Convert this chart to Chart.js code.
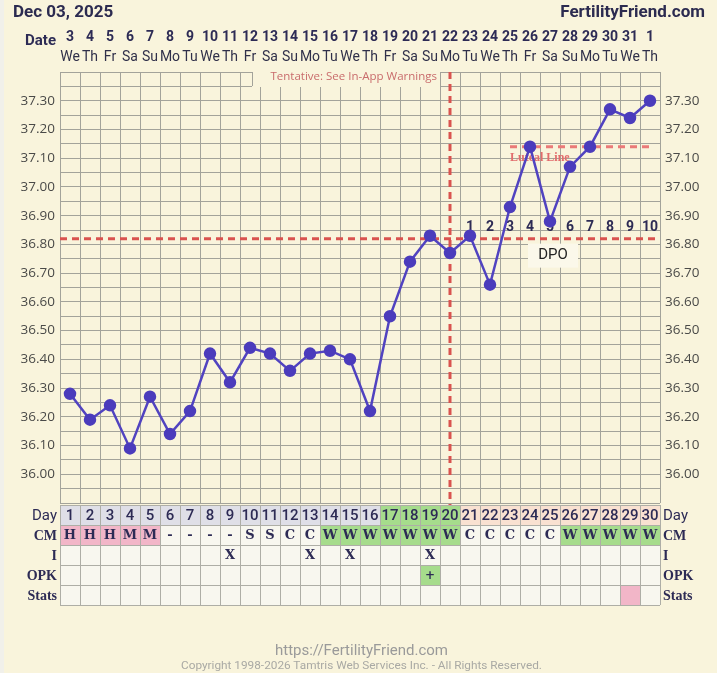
<!DOCTYPE html>
<html>
<head>
<meta charset="utf-8">
<script src="https://cdn.jsdelivr.net/npm/chart.js@4"></script>
<style>
    html, body { margin: 0; padding: 0; background: #f9f4dc; }
    #wrap { position: relative; width: 717px; height: 673px; overflow: hidden; background: #f9f4dc; }
    #edge { position: absolute; left: 0; top: 0; width: 4px; height: 673px; background: #f1f0ea; }
    #chart { position: absolute; left: 0; top: 0; }
    .title { position: absolute; top: 1px; font: bold 17px Roboto, sans-serif; color: #2c2b50; white-space: nowrap; }
    .foot { position: absolute; left: 0; width: 717px; text-align: center; font-family: Roboto, sans-serif; white-space: nowrap; }
</style>
</head>
<body>
<div id="wrap">
    <div id="edge"></div>
    <canvas id="chart" width="717" height="673"></canvas>
    <div class="title" style="left:13px;">Dec 03, 2025</div>
    <div class="title" style="right:12px;">FertilityFriend.com</div>
    <div class="foot" style="top:641px;font-size:15px;color:#9a9a9a;left:3px;">https://FertilityFriend.com</div>
    <div class="foot" style="top:658px;font-size:11.8px;color:#a9a9a4;left:3px;">Copyright 1998-2026 Tamtris Web Services Inc. - All Rights Reserved.</div>
</div>
<script>
    // cycle days and calendar dates
    const cycleDays = [1, 2, 3, 4, 5, 6, 7, 8, 9, 10, 11, 12, 13, 14, 15, 16, 17, 18, 19, 20, 21, 22, 23, 24, 25, 26, 27, 28, 29, 30];
    const dates = ['3', '4', '5', '6', '7', '8', '9', '10', '11', '12', '13', '14', '15', '16', '17', '18', '19', '20', '21', '22', '23', '24', '25', '26', '27', '28', '29', '30', '31', '1'];
    const weekdays = ['We', 'Th', 'Fr', 'Sa', 'Su', 'Mo', 'Tu', 'We', 'Th', 'Fr', 'Sa', 'Su', 'Mo', 'Tu', 'We', 'Th', 'Fr', 'Sa', 'Su', 'Mo', 'Tu', 'We', 'Th', 'Fr', 'Sa', 'Su', 'Mo', 'Tu', 'We', 'Th'];

    // basal body temperatures
    const temps = [36.28, 36.19, 36.24, 36.09, 36.27, 36.14, 36.22, 36.42, 36.32, 36.44,
                   36.42, 36.36, 36.42, 36.43, 36.40, 36.22, 36.55, 36.74, 36.83, 36.77,
                   36.83, 36.66, 36.93, 37.14, 36.88, 37.07, 37.14, 37.27, 37.24, 37.30];
    const tempLabels = [36.00, 36.10, 36.20, 36.30, 36.40, 36.50, 36.60, 36.70, 36.80, 36.90, 37.00, 37.10, 37.20, 37.30];
    const tempMin = 35.90;
    const tempMax = 37.40;

    const coverline = 36.82;
    const ovulationDay = 20;
    const lutealStart = 23;
    const lutealTemp = 37.14;
    const dpoLabels = ['1', '2', '3', '4', '5', '6', '7', '8', '9', '10'];
    const fertileDays = [17, 18, 19, 20];

    // chart table rows
    const cm = ['H', 'H', 'H', 'M', 'M', '-', '-', '-', '-', 'S', 'S', 'C', 'C', 'W', 'W', 'W', 'W', 'W', 'W', 'W', 'C', 'C', 'C', 'C', 'C', 'W', 'W', 'W', 'W', 'W'];
    const intercourse = ['', '', '', '', '', '', '', '', 'X', '', '', '', 'X', '', 'X', '', '', '', 'X', '', '', '', '', '', '', '', '', '', '', ''];
    const opk = ['', '', '', '', '', '', '', '', '', '', '', '', '', '', '', '', '', '', '+', '', '', '', '', '', '', '', '', '', '', ''];
    const statsDays = [29];

    const NAVY = '#2d2b55';
    const GRID = '#a3a39a';
    const RED = '#d9534f';
    const PINK = '#f2b6c8';
    const GREEN = '#a6dc8c';
    const CELL = '#f8f7ef';

    const lutealData = cycleDays.map(d => d >= lutealStart ? lutealTemp : null);

    function cellColor(row, i) {
        const day = cycleDays[i];
        if (row === 'Day') {
            if (fertileDays.includes(day)) return GREEN;
            if (day > ovulationDay) return '#f9e1d1';
            return '#dfdfe7';
        }
        if (row === 'CM') {
            if (cm[i] === 'H' || cm[i] === 'M') return PINK;
            if (cm[i] === 'W') return GREEN;
        }
        if (row === 'OPK' && opk[i] === '+') return GREEN;
        if (row === 'Stats' && statsDays.includes(day)) return PINK;
        return CELL;
    }

    const chartDecor = {
        id: 'chartDecor',
        beforeDraw(chart) {
            const { ctx, chartArea: a } = chart;
            ctx.save();
            ctx.fillStyle = '#f9f4dc';
            ctx.fillRect(a.left, a.top, a.right - a.left, a.bottom - a.top);
            ctx.restore();
        },
        beforeDatasetsDraw(chart) {
            const { ctx, chartArea: a, scales: { x, y } } = chart;
            ctx.save();

            // tentative note box over the top row
            ctx.fillStyle = '#f9f4dc';
            ctx.fillRect(252, a.top - 1, 188, 16);
            ctx.strokeStyle = GRID;
            ctx.lineWidth = 1;
            ctx.beginPath();
            ctx.moveTo(252.5, a.top);
            ctx.lineTo(252.5, a.top + 14);
            ctx.stroke();
            ctx.fillStyle = '#c96c6c';
            ctx.font = '11.5px "Open Sans", sans-serif';
            ctx.textAlign = 'right';
            ctx.textBaseline = 'middle';
            ctx.fillText('Tentative: See In-App Warnings', 437, a.top + 5);

            // DPO box
            const cy = y.getPixelForValue(coverline);
            const bx = x.getPixelForTick(cycleDays.indexOf(ovulationDay) + 4);
            ctx.fillStyle = '#fbf8ea';
            ctx.fillRect(bx - 2, cy + 5, 50, 24);
            ctx.fillStyle = '#222';
            ctx.font = '15px Roboto, sans-serif';
            ctx.textAlign = 'center';
            ctx.fillText('DPO', bx + 23, cy + 17);

            // coverline and ovulation line
            ctx.strokeStyle = RED;
            ctx.lineWidth = 3;
            ctx.setLineDash([7, 5]);
            ctx.beginPath();
            ctx.moveTo(a.left, cy);
            ctx.lineTo(a.right, cy);
            ctx.stroke();
            const ox = x.getPixelForTick(cycleDays.indexOf(ovulationDay));
            ctx.beginPath();
            ctx.moveTo(ox, a.top);
            ctx.lineTo(ox, a.bottom + 2);
            ctx.stroke();
            ctx.setLineDash([]);

            // DPO numbers
            ctx.fillStyle = NAVY;
            ctx.font = 'bold 14px Roboto, sans-serif';
            dpoLabels.forEach((t, k) => {
                ctx.fillText(t, x.getPixelForTick(cycleDays.indexOf(ovulationDay) + 1 + k), cy - 11);
            });

            // luteal line label
            ctx.font = 'bold 12px "Liberation Serif", serif';
            ctx.textAlign = 'left';
            ctx.fillStyle = '#e26d6d';
            ctx.fillText('Luteal Line', x.getPixelForTick(cycleDays.indexOf(lutealStart)), y.getPixelForValue(lutealTemp) + 11);
            ctx.restore();
        },
        afterDraw(chart) {
            const { ctx, chartArea: a, scales: { x } } = chart;
            const colW = (a.right - a.left) / cycleDays.length;
            ctx.save();

            // dates on top
            ctx.textBaseline = 'middle';
            ctx.fillStyle = NAVY;
            ctx.font = 'bold 15px Roboto, sans-serif';
            ctx.textAlign = 'right';
            ctx.fillText('Date', 56, 41);
            ctx.textAlign = 'center';
            dates.forEach((d, i) => {
                const px = x.getPixelForTick(i);
                ctx.fillStyle = NAVY;
                ctx.font = 'bold 14px Roboto, sans-serif';
                ctx.fillText(d, px, 37);
                ctx.fillStyle = '#30304a';
                ctx.font = '14px Roboto, sans-serif';
                ctx.fillText(weekdays[i], px, 57);
            });

            // table under the chart
            const rows = ['Day', 'CM', 'I', 'OPK', 'Stats'];
            const rowH = 20;
            const top = a.bottom + 2;
            rows.forEach((row, r) => {
                const ry = top + r * rowH;
                cycleDays.forEach((day, i) => {
                    const cx = a.left + i * colW;
                    ctx.fillStyle = cellColor(row, i);
                    ctx.fillRect(cx, ry, colW, rowH);
                    let txt = '';
                    if (row === 'Day') txt = String(day);
                    if (row === 'CM') txt = cm[i];
                    if (row === 'I') txt = intercourse[i];
                    if (row === 'OPK') txt = opk[i];
                    if (!txt) return;
                    ctx.fillStyle = NAVY;
                    ctx.font = row === 'Day' ? '500 15px Roboto, sans-serif' : 'bold 13px "DejaVu Serif", serif';
                    if (row === 'OPK') ctx.font = 'bold 12px "DejaVu Sans", sans-serif';
                    ctx.fillText(txt, cx + colW / 2, ry + rowH / 2 + 1);
                });
                // row labels both sides
                ctx.fillStyle = NAVY;
                ctx.font = row === 'Day' ? '15px Roboto, sans-serif' : 'bold 14px "Liberation Serif", serif';
                ctx.textAlign = 'right';
                ctx.fillText(row, a.left - 3, ry + rowH / 2 + 1);
                ctx.textAlign = 'left';
                ctx.fillText(row, a.right + 3, ry + rowH / 2 + 1);
                ctx.textAlign = 'center';
            });
            ctx.strokeStyle = '#aeaea6';
            ctx.lineWidth = 1;
            ctx.beginPath();
            for (let r = 0; r <= rows.length; r++) {
                const ly = Math.round(top + r * rowH) + 0.5;
                ctx.moveTo(a.left, ly);
                ctx.lineTo(a.right, ly);
            }
            for (let i = 0; i <= cycleDays.length; i++) {
                const lx = Math.round(a.left + i * colW) + 0.5;
                ctx.moveTo(lx, top);
                ctx.lineTo(lx, top + rows.length * rowH);
            }
            ctx.stroke();
            ctx.restore();
        }
    };

    const tickFont = { family: 'Open Sans', size: 13.5 };
    function tempTick(v) {
        const hit = tempLabels.find(t => Math.abs(t - v) < 0.001);
        return hit === undefined ? '' : hit.toFixed(2);
    }
    function tempGridTicks(scale) {
        const list = [];
        for (let v = tempMin; v <= tempMax + 0.001; v += 0.05) list.push({ value: Math.round(v * 100) / 100 });
        scale.ticks = list;
    }

    new Chart(document.getElementById('chart'), {
        type: 'line',
        data: {
            labels: cycleDays,
            datasets: [{
                label: 'Temperature',
                data: temps,
                borderColor: '#5143c0',
                backgroundColor: '#4b3cbc',
                borderWidth: 2.5,
                pointRadius: 5,
                pointBackgroundColor: '#4b3cbc',
                pointBorderColor: '#4b3cbc',
                tension: 0,
                order: 0
            }, {
                label: 'Luteal Line',
                data: lutealData,
                borderColor: '#ea7a78',
                borderWidth: 3,
                borderDash: [7, 5],
                pointRadius: 0,
                spanGaps: false,
                order: 1
            }]
        },
        options: {
            responsive: false,
            animation: false,
            events: [],
            layout: { padding: { top: 72, bottom: 170, left: 0, right: 0 } },
            plugins: { legend: { display: false }, tooltip: { enabled: false } },
            scales: {
                x: {
                    type: 'category',
                    offset: true,
                    grid: { offset: true, color: GRID, drawTicks: false },
                    border: { display: false },
                    ticks: { display: false },
                    afterFit(s) { s.height = 0; }
                },
                y: {
                    position: 'left',
                    min: tempMin,
                    max: tempMax,
                    afterBuildTicks: tempGridTicks,
                    grid: { color: GRID, drawTicks: false },
                    border: { display: false },
                    ticks: { callback: tempTick, color: '#4a4a48', font: tickFont, padding: 5, autoSkip: false },
                    afterFit(s) { s.width = 60; }
                },
                y2: {
                    position: 'right',
                    min: tempMin,
                    max: tempMax,
                    afterBuildTicks: tempGridTicks,
                    grid: { display: false, drawTicks: false },
                    border: { display: false },
                    ticks: { callback: tempTick, color: '#4a4a48', font: tickFont, padding: 5, autoSkip: false },
                    afterFit(s) { s.width = 57; }
                }
            }
        },
        plugins: [chartDecor]
    });
</script>
</body>
</html>
